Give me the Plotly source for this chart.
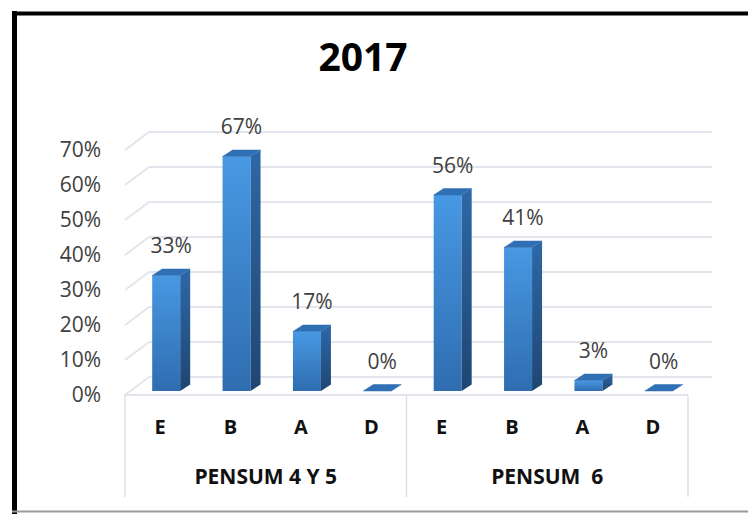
import plotly.graph_objects as go

# ---------------- data ----------------
title_text = "2017"
groups = ["PENSUM 4 Y 5", "PENSUM  6"]
categories = ["E", "B", "A", "D"]
values_pensum_4y5 = [33, 67, 17, 0]
values_pensum_6 = [56, 41, 3, 0]
y_ticks = [0, 10, 20, 30, 40, 50, 60, 70]

# ---------------- geometry / style ----------------
W, H = 756, 514
OFF = 8                      # page body margin: figure px = page px - OFF
PLOT_L, PLOT_R = 124, 712    # page px
PLOT_T, PLOT_B = 100, 500    # page px
ML = PLOT_L - OFF
MR = W - (PLOT_R - OFF)
MT = PLOT_T - OFF
MB = H - (PLOT_B - OFF)
PW, PH = PLOT_R - PLOT_L, PLOT_B - PLOT_T
PX_X = 70.375          # px per category
PX_Y = 3.5             # px per percent
FLOOR_PX = 395         # page row of 0% on the front plane

x0 = -0.5 - (125 - PLOT_L) / PX_X
x1 = x0 + PW / PX_X
y_top = (FLOOR_PX - PLOT_T) / PX_Y
y_bot = -(PLOT_B - FLOOR_PX) / PX_Y

WALL_DX, WALL_DY = 24 / PX_X, 18 / PX_Y     # back wall offset
BAR_DX, BAR_DY = 6 / PX_X, 4 / PX_Y         # bar depth plane offset
HALF_W = 14 / PX_X                          # half bar width
SIDE_DX, SIDE_DY = 10 / PX_X, 6.5 / PX_Y    # bar depth
LABEL_GAP = 21 / PX_Y

FONT = "Open Sans"
FRONT_SCALE = [[0, "#2f6db0"], [1, "#4898e3"]]
SIDE_SCALE = [[0, "#1f4673"], [1, "#2d68a7"]]
TOP_COLOR = "#2f6fb3"
GRID_COLOR = "#e2e5eb"

values = values_pensum_4y5 + values_pensum_6
labels = categories * len(groups)
n = len(values)
positions = list(range(n))


def paper_x(px):
    return (px - PLOT_L) / PW


def paper_y(py):
    return (PLOT_B - py) / PH


fig = go.Figure()

# back wall + side wall gridlines
gx, gy = [], []
for v in y_ticks:
    gx += [-0.5 + WALL_DX, n - 0.5 + WALL_DX + 1, None]
    gy += [v + WALL_DY, v + WALL_DY, None]
    gx += [-0.5, -0.5 + WALL_DX, None]
    gy += [v, v + WALL_DY, None]
fig.add_trace(go.Scatter(x=gx, y=gy, mode="lines", line=dict(color=GRID_COLOR, width=2),
                         hoverinfo="skip", showlegend=False))

# floor front edge
fig.add_trace(go.Scatter(x=[-0.5, n - 0.5], y=[0, 0], mode="lines",
                         line=dict(color="#d9dde4", width=1.5), hoverinfo="skip", showlegend=False))

# category dividers
per = len(categories)
dx_, dy_ = [], []
for g in range(len(groups) + 1):
    xv = g * per - 0.5
    dx_ += [xv, xv, None]
    dy_ += [0, -(497 - FLOOR_PX) / PX_Y, None]
fig.add_trace(go.Scatter(x=dx_, y=dy_, mode="lines", line=dict(color="#dde1e8", width=1.5),
                         hoverinfo="skip", showlegend=False))

# bars (pseudo 3-D)
label_x, label_y = [], []
for i, v in zip(positions, values):
    xl = i + BAR_DX - HALF_W
    xr = i + BAR_DX + HALF_W
    b = BAR_DY
    t = v + BAR_DY
    if v > 0:
        fig.add_trace(go.Scatter(
            x=[xl, xr, xr, xl, xl], y=[b, b, t, t, b], mode="lines", fill="toself",
            line=dict(width=0, color="rgba(0,0,0,0)"),
            fillgradient=dict(type="vertical", colorscale=FRONT_SCALE, start=b, stop=t),
            hoverinfo="skip", showlegend=False))
        fig.add_trace(go.Scatter(
            x=[xr, xr + SIDE_DX, xr + SIDE_DX, xr, xr],
            y=[b, b + SIDE_DY, t + SIDE_DY, t, b], mode="lines", fill="toself",
            line=dict(width=0, color="rgba(0,0,0,0)"),
            fillgradient=dict(type="vertical", colorscale=SIDE_SCALE, start=b, stop=t + SIDE_DY),
            hoverinfo="skip", showlegend=False))
    fig.add_trace(go.Scatter(
        x=[xl, xr, xr + SIDE_DX, xl + SIDE_DX, xl],
        y=[t, t, t + SIDE_DY, t + SIDE_DY, t], mode="lines", fill="toself",
        fillcolor=TOP_COLOR, line=dict(width=0.5, color=TOP_COLOR),
        hoverinfo="skip", showlegend=False))
    label_x.append(i + BAR_DX + SIDE_DX / 2)
    label_y.append(t + SIDE_DY + LABEL_GAP)

# data labels
fig.add_trace(go.Scatter(
    x=label_x, y=label_y, mode="text", text=[f"{v}%" for v in values],
    textposition="middle center", textfont=dict(family=FONT, size=21, color="#404040"),
    cliponaxis=False, hoverinfo="skip", showlegend=False))

# group labels
fig.add_trace(go.Scatter(
    x=[g * per + (per - 1) / 2 for g in range(len(groups))],
    y=[-(479 - FLOOR_PX) / PX_Y] * len(groups), mode="text",
    text=[g.replace("  ", "\u00a0 ") for g in groups],
    textposition="middle center",
    textfont=dict(family=FONT, size=21, color="#111111", weight="bold"),
    cliponaxis=False, hoverinfo="skip", showlegend=False))

# frame
fig.add_shape(type="line", xref="paper", yref="paper",
              x0=paper_x(14.5), x1=paper_x(14.5), y0=paper_y(11), y1=paper_y(H + 12),
              line=dict(color="black", width=5))
fig.add_shape(type="line", xref="paper", yref="paper",
              x0=paper_x(12), x1=paper_x(W + 12), y0=paper_y(13.5), y1=paper_y(13.5),
              line=dict(color="black", width=4))
fig.add_shape(type="line", xref="paper", yref="paper",
              x0=paper_x(12), x1=paper_x(W + 12), y0=paper_y(511.5), y1=paper_y(511.5),
              line=dict(color="#9a9a9a", width=2))

fig.update_layout(
    width=W, height=H, autosize=False,
    margin=dict(l=ML, r=MR, t=MT, b=MB),
    paper_bgcolor="white", plot_bgcolor="white",
    title=dict(text=title_text, x=(363 - OFF) / W, xanchor="center",
               y=1 - (57 - OFF) / H, yanchor="middle",
               font=dict(family=FONT, size=39, color="black", weight="bold")),
    xaxis=dict(range=[x0, x1], tickvals=positions, ticktext=labels,
               anchor="free", position=paper_y(FLOOR_PX),
               showgrid=False, zeroline=False, showline=False, ticks="",
               ticklabelstandoff=18,
               tickfont=dict(family=FONT, size=20, color="#111111", weight="bold")),
    yaxis=dict(range=[y_bot, y_top], tickvals=y_ticks, ticktext=[f"{v}%" for v in y_ticks],
               showgrid=False, zeroline=False, showline=False, ticks="",
               ticklabelstandoff=22,
               tickfont=dict(family=FONT, size=21, color="#404040")),
    showlegend=False,
)

fig.write_html("out.html")
